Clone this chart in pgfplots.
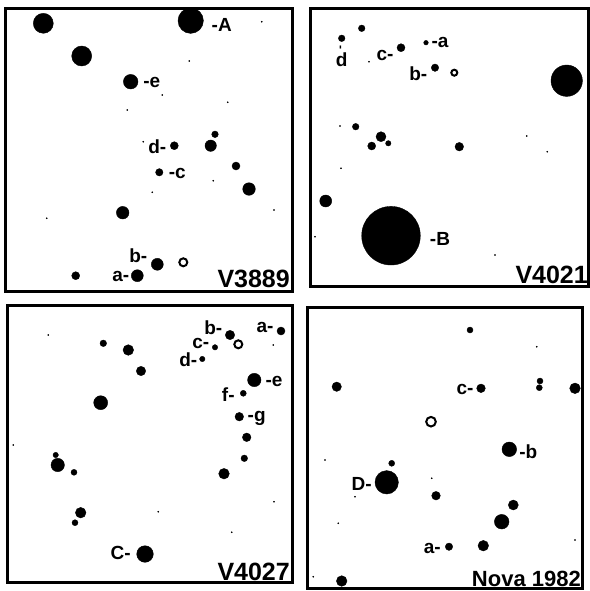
\documentclass[border=0pt]{standalone}
\usepackage{fontspec}
\setmainfont{Liberation Sans}
\usepackage{pgfplots}
\pgfplotsset{compat=1.18}
\usepackage{pgfplotstable}

\pgfplotstableread{
x y r
43.3 23.3 10
190.7 20.7 12.7
81.7 56 10
130.7 81.7 7.3
215 134.3 3.3
174.3 145.7 4
210.7 145.7 5.7
236 166 4
159.3 172.3 3.7
249 189 6.3
122.7 212.7 6.3
157.3 264.3 6
137.3 275.7 6
75.7 275.7 4
}\starsA
\pgfplotstableread{
x y
261.7 21.7
189.3 61
162.3 95
227.7 102.3
127.3 110
143.3 141.7
46.7 218.3
152.3 192.3
213.3 180.7
274 210
}\specksA
\pgfplotstableread{
x y r
361.7 28.3 3.3
341.7 38.3 3.3
401 47.7 4
426 42.7 2.3
435 67.7 3.7
566.7 80.7 15.7
355.7 126.7 3.3
381 136.7 5
388.3 143.3 2.7
371.7 146 4
459.3 146.7 4.3
325.7 201 6
391 235.7 29.3
}\starsB
\pgfplotstableread{
x y
340 126
369 61.7
526.7 136
547.3 151.7
341 168.3
315 236.7
495 255
}\specksB
\pgfplotstableread{
x y r
281 331 4
230 335 4.7
215 347.3 2.7
202.3 359 2.7
103.3 343.3 3.3
128.3 350 5.3
141 371 4.7
254.3 380 6.7
243.3 393.3 3
100.7 402.7 7
239.3 416.7 4.3
246.7 437.3 4.3
244.3 458.3 3.3
55.7 455 2.7
57.7 465 6.7
74 472.3 3
224 473.7 5.3
80.7 512.7 5.3
75 522.7 3
145 554 8.3
}\starsC
\pgfplotstableread{
x y
48.3 335
273.3 345
13.3 445
158.3 511.7
231.7 532.3
274 501.7
}\specksC
\pgfplotstableread{
x y r
470 330 3
336.7 386.7 4.7
481 388.3 4.3
540 381 3
539.3 387.7 3
575 388.3 5.3
509.3 449.3 7.3
391.7 463.3 3
386.7 482.3 11.7
436 495.7 4.3
513.3 505 5
501.7 521.7 7.3
449 546.7 3.7
483.3 545.7 5.3
341.7 581 5.3
}\starsD
\pgfplotstableread{
x y
536.7 346.7
431.7 478.3
325 460
338.3 523.3
355 496.7
575 540
313.3 576.7
}\specksD

\pgfplotsset{
  panel/.style={scale only axis, y dir=reverse, axis line style={line width=3pt},
    ticks=none, clip=false},
  stars/.style={scatter, only marks, mark=*, scatter/use mapped color={draw=black,fill=black},
    visualization depends on={\thisrow{r} \as \rad},
    scatter/@pre marker code/.append style={/tikz/mark size=\rad}},
  specks/.style={only marks, mark=*, mark size=0.6pt, black},
  openstar/.style={only marks, mark=*, mark size=4pt, mark options={draw=black, fill=white, line width=2pt}},
}
\newcommand\lab[3]{\node[font=\bfseries\fontsize{19}{19}\selectfont, inner sep=0pt] at (axis cs:#1,#2) {#3};}
\newcommand\name[4][25]{\node[font=\bfseries\fontsize{#1}{#1}\selectfont, inner sep=0pt, anchor=base east] at (axis cs:#2,#3) {#4};}

\begin{document}
\begin{tikzpicture}
\useasboundingbox (0,0) rectangle (589pt,-591pt);
% Panel 1
\begin{axis}[panel, at={(6pt,-291pt)}, anchor=south west, width=286pt, height=283pt,
  xmin=6, xmax=292, ymin=8, ymax=291]
\addplot[stars] table[x=x,y=y] {\starsA};
\addplot[specks] table[x=x,y=y] {\specksA};
\addplot[openstar] coordinates {(183.3,262.3)};
\lab{221.7}{25}{-A}
\lab{151.7}{82.7}{-e}
\lab{157.3}{146.7}{d-}
\lab{177.3}{173.3}{-c}
\lab{138.3}{256}{b-}
\lab{120.7}{276.7}{a-}
\name{290}{287}{V3889}
\end{axis}
% Panel 2
\begin{axis}[panel, at={(310pt,-286pt)}, anchor=south west, width=278pt, height=278pt,
  xmin=310, xmax=588, ymin=8, ymax=286]
\addplot[stars] table[x=x,y=y] {\starsB};
\addplot[specks] table[x=x,y=y] {\specksB};
\addplot[openstar, mark size=3pt] coordinates {(454.3,72.7)};
\lab{385}{55}{c-}
\lab{440}{42.7}{-a}
\lab{418.3}{74}{b-}
\lab{341.7}{59.3}{d}
\node[rotate=90, font=\bfseries\fontsize{12}{12}\selectfont, inner sep=0pt] at (axis cs:341.7,47.5) {-};
\lab{440}{239.3}{-B}
\name{588}{283}{V4021}
\end{axis}
% Panel 3
\begin{axis}[panel, at={(8pt,-582pt)}, anchor=south west, width=284pt, height=277pt,
  xmin=8, xmax=292, ymin=305, ymax=582]
\addplot[stars] table[x=x,y=y] {\starsC};
\addplot[specks] table[x=x,y=y] {\specksC};
\addplot[openstar] coordinates {(238.3,344.3)};
\lab{265}{327.3}{a-}
\lab{213.3}{327.3}{b-}
\lab{200.7}{343.3}{c-}
\lab{188.3}{360}{d-}
\lab{274}{381}{-e}
\lab{228.3}{394.3}{f-}
\lab{256.7}{418.3}{-g}
\lab{120.7}{553.3}{C-}
\name{290}{580.5}{V4027}
\end{axis}
% Panel 4
\begin{axis}[panel, at={(307pt,-588pt)}, anchor=south west, width=275pt, height=281pt,
  xmin=307, xmax=582, ymin=307, ymax=588]
\addplot[stars] table[x=x,y=y] {\starsD};
\addplot[specks] table[x=x,y=y] {\specksD};
\addplot[openstar, mark size=4.8pt] coordinates {(431,421.7)};
\lab{465}{389.3}{c-}
\lab{528.3}{451.7}{-b}
\lab{361.7}{484.3}{D-}
\lab{432.3}{548.3}{a-}
\name[22]{581}{586}{Nova 1982}
\end{axis}
\end{tikzpicture}
\end{document}
